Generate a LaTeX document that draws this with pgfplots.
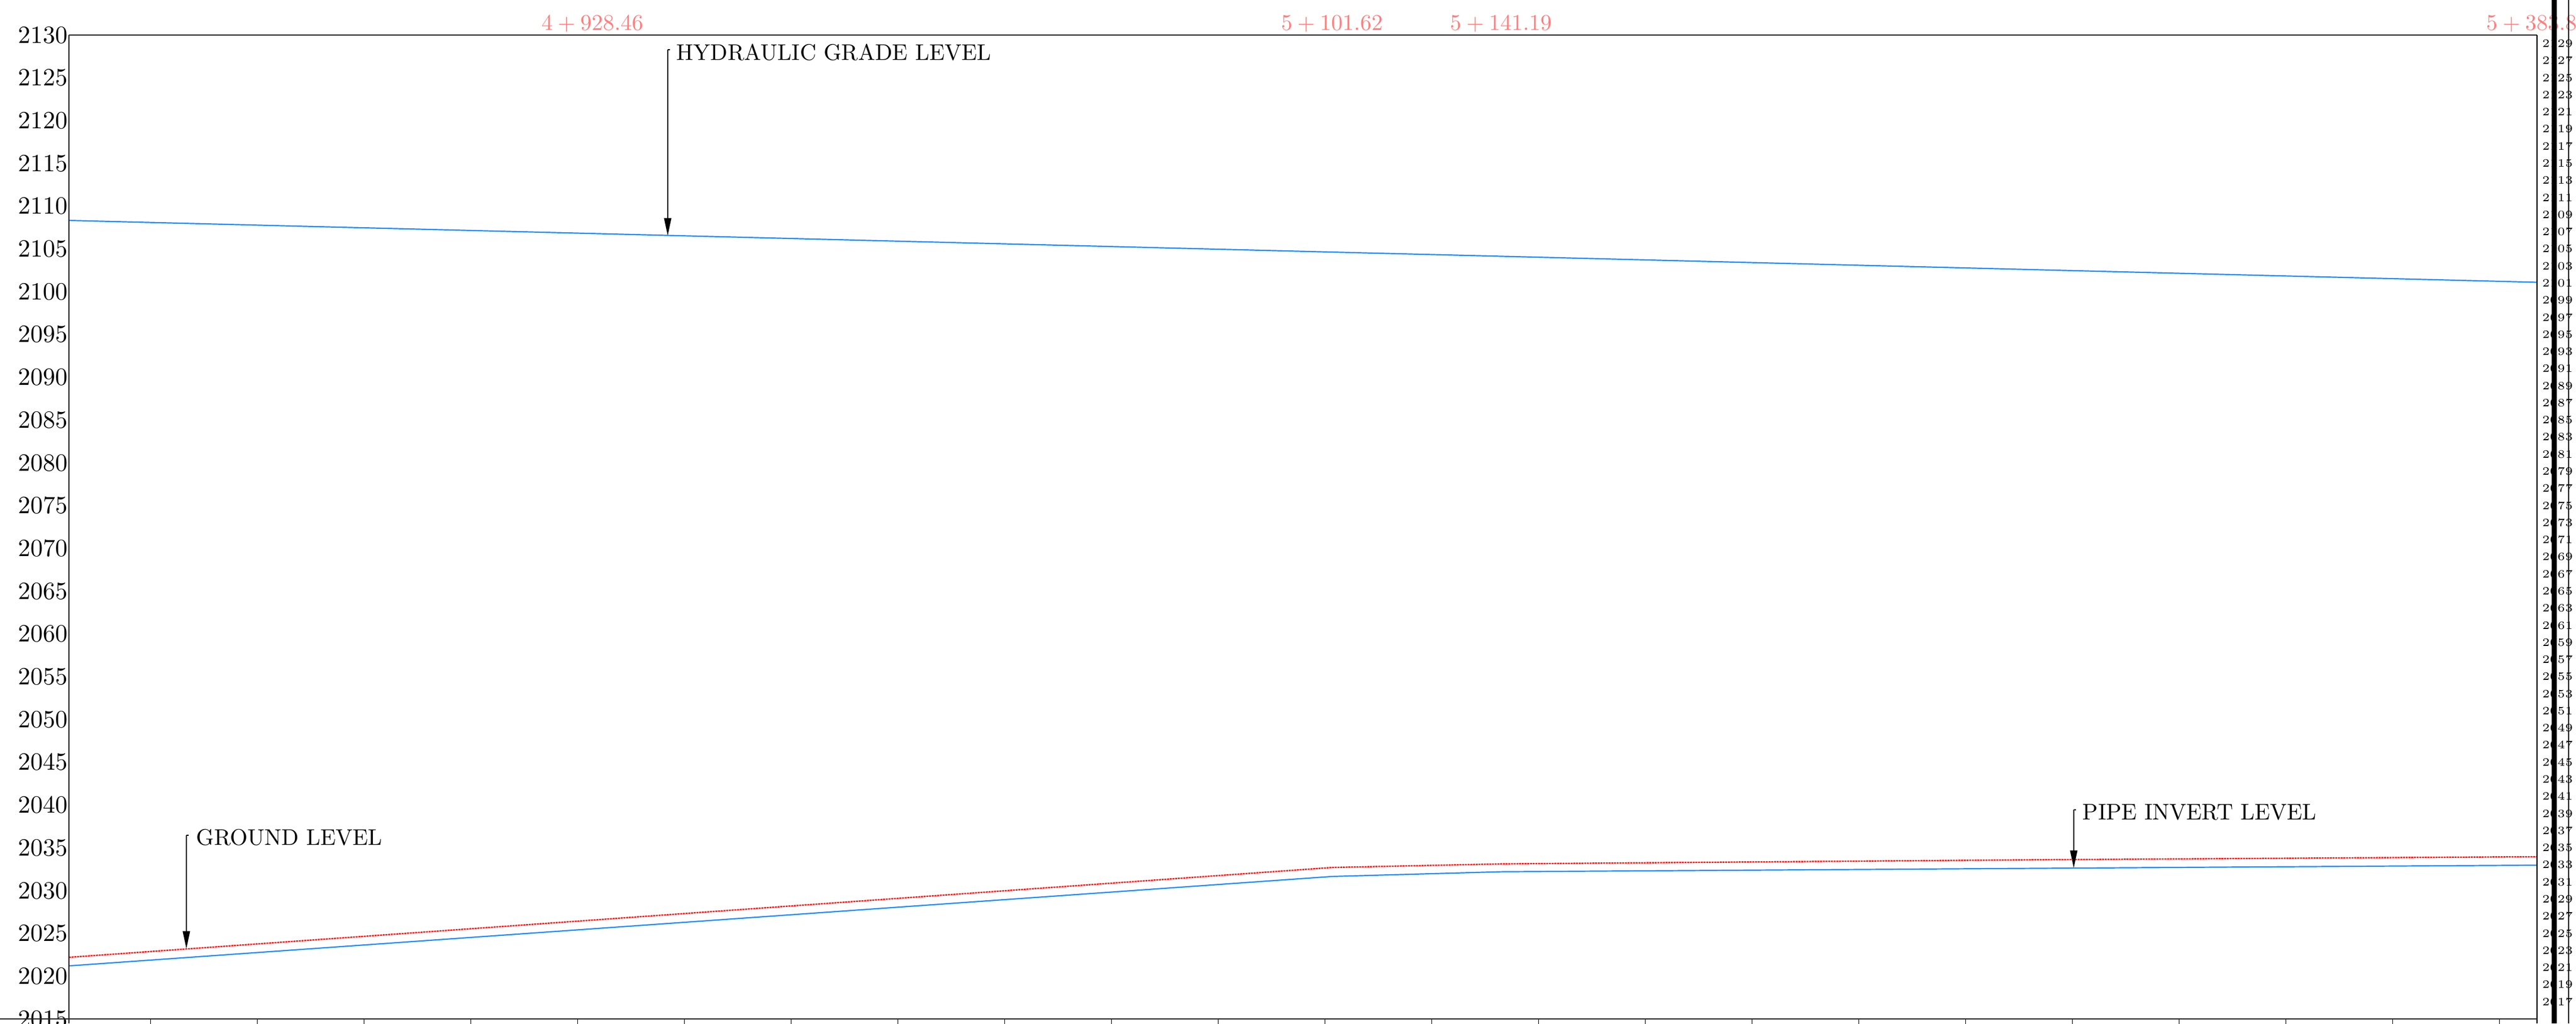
\documentclass[border=0pt]{standalone}
\usepackage{pgfplots}
\pgfplotsset{compat=1.18}
\usetikzlibrary{arrows.meta}
\definecolor{hgl}{RGB}{30,140,255}
\definecolor{gl}{RGB}{255,20,20}
\definecolor{sta}{RGB}{255,125,125}
\begin{document}
\begin{tikzpicture}
\path[use as bounding box] (0,0) rectangle (1140pt,452.75pt);
\clip (0,0) rectangle (1140pt,452.75pt);
\begin{axis}[
  at={(30.5pt,2pt)}, anchor=south west,
  scale only axis, width=1092.25pt, height=435.25pt,
  xmin=4805.9, xmax=5383.8, ymin=2015, ymax=2130,
  clip=false,
  axis line style={draw=none},
  xtick={4825,4850,...,5375}, xticklabels={},
  xtick pos=bottom, xtick align=outside,
  major tick length=6pt,
  xtick style={draw=black, line width=0.4pt},
  ytick={2015,2020,...,2130}, ytick pos=left,
  ytick style={draw=none},
  yticklabel style={font=\fontsize{10.75}{12}\selectfont, inner sep=0pt, anchor=east, xshift=-0.4pt},
  /pgf/number format/1000 sep={},
]
\addplot[hgl, line width=0.55pt] coordinates {(4805.9,2108.33) (4928.46,2106.80) (5101.62,2104.63) (5141.19,2104.14) (5383.8,2101.10)};
\addplot[gl, line width=0.6pt, dash pattern=on 0.9pt off 0.3pt] coordinates {(4805.9,2022.2) (5101.62,2032.7) (5141.19,2033.12) (5265.9,2033.6) (5383.8,2033.96)};
\addplot[hgl, line width=0.55pt] coordinates {(4805.9,2021.2) (5101.62,2031.65) (5141.19,2032.2) (5265.9,2032.6) (5383.8,2032.97)};
% annotations
\draw[line width=0.4pt, -{Triangle[length=7.8pt,width=3.2pt]}] (axis cs:4946.1,2128.27) -- (axis cs:4946.1,2106.55);
\draw[line width=0.4pt] (axis cs:4946.1,2128.27) -- ([xshift=1pt]axis cs:4946.1,2128.27);
\node[anchor=base west, inner sep=0pt, font=\fontsize{10}{12}\selectfont] at (axis cs:4948.1,2127.09) {HYDRAULIC GRADE LEVEL};
\draw[line width=0.4pt, -{Triangle[length=7.8pt,width=3.2pt]}] (axis cs:4833.4,2036.47) -- (axis cs:4833.4,2023.2);
\draw[line width=0.4pt] (axis cs:4833.4,2036.47) -- ([xshift=1pt]axis cs:4833.4,2036.47);
\node[anchor=base west, inner sep=0pt, font=\fontsize{10}{12}\selectfont] at (axis cs:4835.66,2035.34) {GROUND LEVEL};
\draw[line width=0.4pt, -{Triangle[length=7.8pt,width=3.2pt]}] (axis cs:5275.3,2039.44) -- (axis cs:5275.3,2032.63);
\draw[line width=0.4pt] (axis cs:5275.3,2039.44) -- ([xshift=1pt]axis cs:5275.3,2039.44);
\node[anchor=base west, inner sep=0pt, font=\fontsize{10}{12}\selectfont] at (axis cs:5277.3,2038.3) {PIPE INVERT LEVEL};
% station labels
\node[sta, anchor=base, inner sep=0pt, font=\fontsize{10}{12}\selectfont, yshift=2.2pt] at (axis cs:4928.46,2130) {$4+928.46$};
\node[sta, anchor=base, inner sep=0pt, font=\fontsize{10}{12}\selectfont, yshift=2.2pt] at (axis cs:5101.62,2130) {$5+101.62$};
\node[sta, anchor=base, inner sep=0pt, font=\fontsize{10}{12}\selectfont, yshift=2.2pt] at (axis cs:5141.19,2130) {$5+141.19$};
\node[sta, anchor=base, inner sep=0pt, font=\fontsize{10}{12}\selectfont, yshift=2.2pt] at (axis cs:5383.8,2130) {$5+383.82$};
\end{axis}
\begin{axis}[
  at={(30.5pt,2pt)}, anchor=south west,
  scale only axis, width=1092.25pt, height=435.25pt,
  xmin=4805.9, xmax=5383.8, ymin=2015, ymax=2130,
  axis line style={draw=none}, xtick=\empty,
  ytick={2017,2019,...,2129}, ytick pos=right, yticklabel pos=right,
  ytick style={draw=none},
  yticklabel style={font=\fontsize{5.5}{6}\selectfont, inner sep=0pt, anchor=west, xshift=2pt},
  /pgf/number format/1000 sep={},
]
\end{axis}
\draw[line width=0.45pt] (30.5pt,437.25pt) -- (30.5pt,0pt);
\draw[line width=0.55pt, black!85] (30.5pt,437.25pt) -- (1122.75pt,437.25pt);
\draw[line width=0.45pt] (1122.75pt,437.25pt) -- (1122.75pt,0pt);
\draw[line width=0.55pt, black!85] (0pt,2pt) -- (1122.75pt,2pt);
\fill (1129.25pt,0pt) rectangle (1131.5pt,452.75pt);
\draw[line width=0.3pt] (1136.75pt,0pt) -- (1136.75pt,452.75pt);
\end{tikzpicture}
\end{document}
